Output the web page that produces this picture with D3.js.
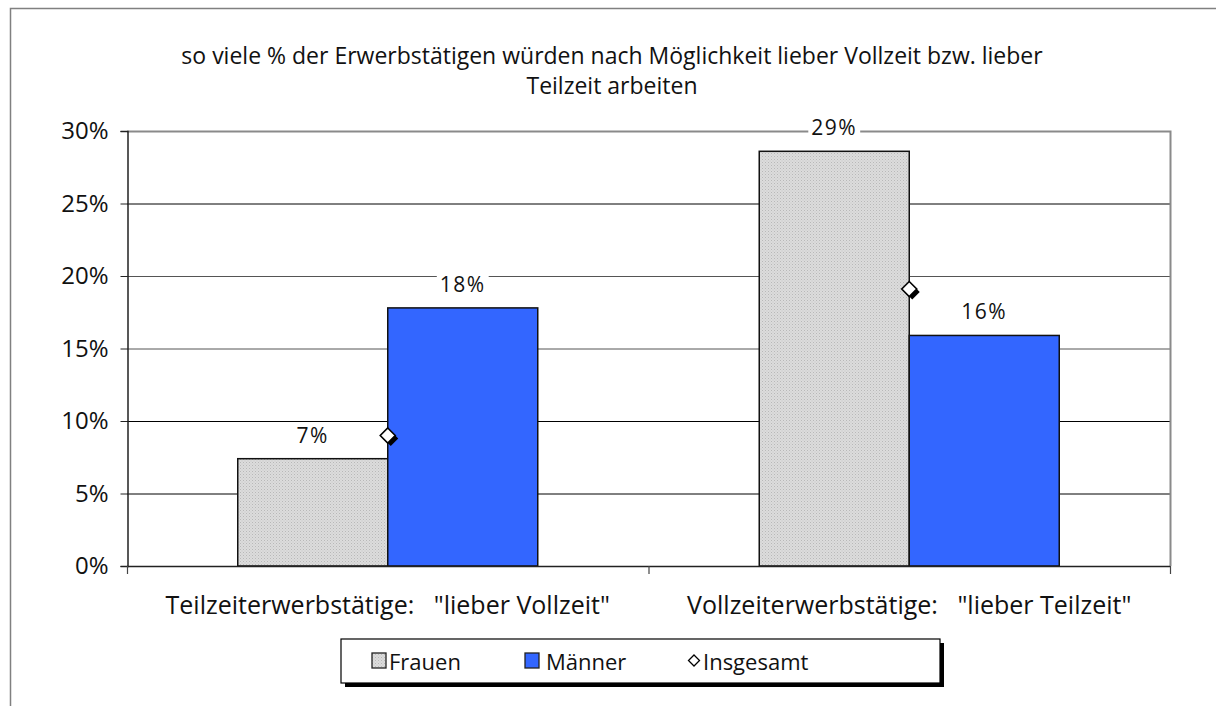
<!DOCTYPE html>
<html><head><meta charset="utf-8">
<script src="https://cdn.jsdelivr.net/npm/d3@7"></script>
<style>body{margin:0;background:#fff;} svg{display:block;} text{font-family:"Open Sans","Noto Sans",sans-serif;fill:#111;}</style>
</head><body>
<svg id="c" width="1216" height="706"></svg>
<script>
const categories = ['Teilzeiterwerbstätige:   "lieber Vollzeit"', 'Vollzeiterwerbstätige:   "lieber Teilzeit"'];
const frauen = [7.4, 28.6];
const maenner = [17.8, 15.9];
const insgesamt = [9.0, 19.1];
const frauenLabels = ["7%", "29%"];
const maennerLabels = ["18%", "16%"];
const yTicks = [0, 5, 10, 15, 20, 25, 30];
const titleLines = ["so viele % der Erwerbstätigen würden nach Möglichkeit lieber Vollzeit bzw. lieber", "Teilzeit arbeiten"];
const legendItems = ["Frauen", "Männer", "Insgesamt"];

const svg = d3.select("#c");
const defs = svg.append("defs");
const pat = defs.append("pattern").attr("id","dots").attr("width",3).attr("height",3).attr("patternUnits","userSpaceOnUse");
pat.append("rect").attr("width",3).attr("height",3).attr("fill","#dcdcdc");
pat.append("rect").attr("x",0).attr("y",0).attr("width",1).attr("height",1).attr("fill","#b8b8b8");
pat.append("rect").attr("x",1.5).attr("y",1.5).attr("width",1).attr("height",1).attr("fill","#c4c4c4");

// outer border
svg.append("path").attr("d","M10.5,706 V8.5 H1216").attr("fill","none").attr("stroke","#808080").attr("stroke-width",1.5);

const L=127, R=1170, T=131, B=566;
const x = d3.scaleBand().domain(categories).range([L,R]).paddingInner(0).paddingOuter(0);
const y = d3.scaleLinear().domain([0,30]).range([B,T]);
const barW = 150;

// gridlines
svg.append("g").selectAll("line").data(yTicks.filter(d=>d>0&&d<30)).join("line")
  .attr("x1",L).attr("x2",R).attr("y1",d=>y(d)+0.5).attr("y2",d=>y(d)+0.5)
  .attr("stroke",d=> (d===20||d===15)?"#555":"#000").attr("stroke-width",1);
// plot border top/right
svg.append("path").attr("d",`M${L},${T+0.5} H${R+0.5} V${B}`).attr("fill","none").attr("stroke","#8a8a8a").attr("stroke-width",2);

// y axis
const yAxis = d3.axisLeft(y).tickValues(yTicks).tickFormat(d=>d+"%").tickSize(7).tickPadding(12);
const ga = svg.append("g").attr("transform",`translate(${L+0.5},0)`).call(yAxis);
ga.select(".domain").attr("stroke","#222").attr("stroke-width",1.5);
ga.selectAll(".tick line").attr("stroke","#222");
ga.selectAll("text").style("font-size","24px").attr("fill","#111").style("font-family",'"Open Sans","Noto Sans",sans-serif');

// bars
const g = svg.append("g");
categories.forEach((c,i)=>{
  const cx = x(c)+x.bandwidth()/2;
  g.append("rect").attr("x",cx-barW).attr("y",y(frauen[i])).attr("width",barW).attr("height",B-y(frauen[i]))
    .attr("fill","url(#dots)").attr("stroke","#111").attr("stroke-width",1.5);
  g.append("rect").attr("x",cx).attr("y",y(maenner[i])).attr("width",barW).attr("height",B-y(maenner[i]))
    .attr("fill","#3366ff").attr("stroke","#111").attr("stroke-width",1.5);
  [[cx-barW/2, frauen[i], frauenLabels[i]],[cx+barW/2, maenner[i], maennerLabels[i]]].forEach(([lx,v,t])=>{
    const ly = y(v)-16;
    const tx = g.append("text").attr("x",lx).attr("y",ly).attr("text-anchor","middle").style("font-size","21px").style("letter-spacing","1.5px").text(t);
    const bb = tx.node().getBBox();
    g.insert("rect", () => tx.node()).attr("x",bb.x-3).attr("y",bb.y+3).attr("width",bb.width+6).attr("height",bb.height-6).attr("fill","#fff");
  });
});

// x axis
svg.append("line").attr("x1",L).attr("x2",R).attr("y1",B+0.5).attr("y2",B+0.5).attr("stroke","#222").attr("stroke-width",1.5);
[L, L+x.bandwidth(), R].forEach(px=>{
  svg.append("line").attr("x1",px+0.5).attr("x2",px+0.5).attr("y1",B).attr("y2",B+8).attr("stroke","#444").attr("stroke-width",1.2);
});
svg.append("g").selectAll("text").data(categories).join("text")
  .attr("x",d=>x(d)+x.bandwidth()/2).attr("y",614).attr("text-anchor","middle")
  .style("font-size","25px").style("white-space","pre").attr("xml:space","preserve").text(d=>d);

// diamonds
function diamond(sel, cx, cy, r){
  sel.append("path").attr("d",`M${cx+3},${cy+3-r} L${cx+3+r},${cy+3} L${cx+3},${cy+3+r} L${cx+3-r},${cy+3} Z`).attr("fill","#000");
  sel.append("path").attr("d",`M${cx},${cy-r} L${cx+r},${cy} L${cx},${cy+r} L${cx-r},${cy} Z`).attr("fill","#fff").attr("stroke","#000").attr("stroke-width",1.6);
}
categories.forEach((c,i)=>{
  diamond(svg, x(c)+x.bandwidth()/2, y(insgesamt[i]), 7.5);
});

// title
svg.append("g").selectAll("text").data(titleLines).join("text")
  .attr("x",612).attr("y",(d,i)=>64+i*30).attr("text-anchor","middle").style("font-size","23px").text(d=>d);

// legend
const lg = svg.append("g");
lg.append("rect").attr("x",345).attr("y",643).attr("width",599).attr("height",44).attr("fill","#000");
lg.append("rect").attr("x",341).attr("y",639).attr("width",599).attr("height",44).attr("fill","#fff").attr("stroke","#000").attr("stroke-width",1.2);
lg.append("rect").attr("x",372).attr("y",653).attr("width",14).attr("height",15).attr("fill","url(#dots)").attr("stroke","#222").attr("stroke-width",1.3);
lg.append("text").attr("x",389).attr("y",670).style("font-size","22px").text(legendItems[0]);
lg.append("rect").attr("x",525).attr("y",653).attr("width",14).attr("height",15).attr("fill","#3366ff").attr("stroke","#222").attr("stroke-width",1.3);
lg.append("text").attr("x",546).attr("y",670).style("font-size","22px").text(legendItems[1]);
lg.append("path").attr("d","M694,655 L699.5,660.5 L694,666 L688.5,660.5 Z").attr("fill","#fff").attr("stroke","#000").attr("stroke-width",1.3);
lg.append("text").attr("x",703).attr("y",670).style("font-size","22px").text(legendItems[2]);
</script>
</body></html>
